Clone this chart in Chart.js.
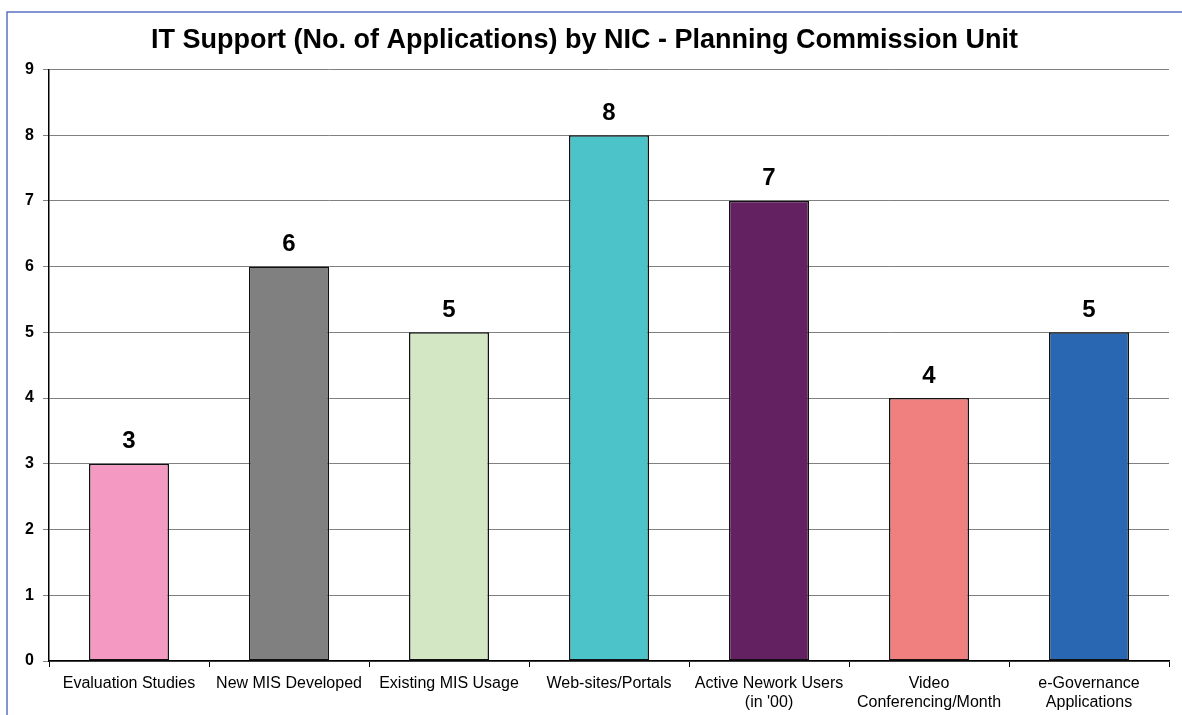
<!DOCTYPE html>
<html>
<head>
<meta charset="utf-8">
<script src="https://cdn.jsdelivr.net/npm/chart.js@4/dist/chart.umd.min.js"></script>
<style>
html,body{margin:0;padding:0;background:#fff;}
#wrap{width:1182px;height:715px;position:relative;}
</style>
</head>
<body>
<div id="wrap"><canvas id="c" width="1182" height="715"></canvas></div>
<script>
const categories = [
  "Evaluation Studies",
  "New MIS Developed",
  "Existing MIS Usage",
  "Web-sites/Portals",
  ["Active Nework Users", "(in '00)"],
  ["Video", "Conferencing/Month"],
  ["e-Governance", "Applications"]
];
const values = [3, 6, 5, 8, 7, 4, 5];
const barColors = ["#F49AC2", "#808080", "#D3E7C5", "#4BC3C8", "#632161", "#F08080", "#2A67B2"];
const yTicks = [0, 1, 2, 3, 4, 5, 6, 7, 8, 9];
const titleText = "IT Support (No. of Applications) by NIC - Planning Commission Unit";

const FONT = "'Liberation Sans', Arial, sans-serif";

const framePlugin = {
  id: 'frame',
  beforeDraw(chart) {
    const ctx = chart.ctx;
    ctx.save();
    ctx.fillStyle = '#fff';
    ctx.fillRect(0, 0, chart.width, chart.height);
    ctx.strokeStyle = '#5B73C2';
    ctx.lineWidth = 1.5;
    ctx.beginPath();
    ctx.moveTo(7, chart.height);
    ctx.lineTo(7, 12);
    ctx.lineTo(chart.width, 12);
    ctx.stroke();
    ctx.restore();
  }
};

const labelPlugin = {
  id: 'valLabels',
  afterDatasetsDraw(chart) {
    const ctx = chart.ctx;
    const meta = chart.getDatasetMeta(0);
    ctx.save();
    ctx.font = "bold 24px " + FONT;
    ctx.fillStyle = '#000';
    ctx.textAlign = 'center';
    ctx.textBaseline = 'middle';
    meta.data.forEach((bar, i) => {
      ctx.fillText(String(values[i]), bar.x, bar.y - 22);
    });
    ctx.restore();
  }
};

new Chart(document.getElementById('c'), {
  type: 'bar',
  data: {
    labels: categories,
    datasets: [{
      data: values,
      backgroundColor: barColors,
      borderColor: '#111',
      borderWidth: 1.5,
      borderSkipped: false,
      barPercentage: 0.5,
      categoryPercentage: 1.0
    }]
  },
  options: {
    responsive: false,
    animation: false,
    devicePixelRatio: 1,
    layout: { padding: { left: 0, right: 13, top: 0, bottom: 0 } },
    plugins: {
      legend: { display: false },
      tooltip: { enabled: false },
      title: {
        display: true,
        text: titleText,
        color: '#000',
        font: { family: FONT, size: 27, weight: 'bold' },
        padding: { top: 24, bottom: 13 }
      }
    },
    scales: {
      x: {
        afterFit(scale) { scale.height = 54; },
        grid: {
          offset: true,
          drawOnChartArea: false,
          drawTicks: true,
          tickLength: 6,
          color: '#000'
        },
        border: { color: '#000', width: 1.5 },
        ticks: {
          color: '#000',
          font: { family: FONT, size: 16, lineHeight: 1.2 },
          padding: 7,
          maxRotation: 0,
          autoSkip: false
        }
      },
      y: {
        min: 0,
        max: 9,
        afterFit(scale) { scale.width = 49; },
        afterBuildTicks(scale) { scale.ticks = yTicks.map(v => ({ value: v })); },
        grid: {
          color: '#808080',
          lineWidth: 1,
          tickLength: 6,
          drawTicks: true
        },
        border: { color: '#000', width: 1.5 },
        ticks: {
          color: '#000',
          font: { family: FONT, size: 16, weight: 'bold' },
          padding: 9
        }
      }
    }
  },
  plugins: [framePlugin, labelPlugin]
});
</script>
</body>
</html>
